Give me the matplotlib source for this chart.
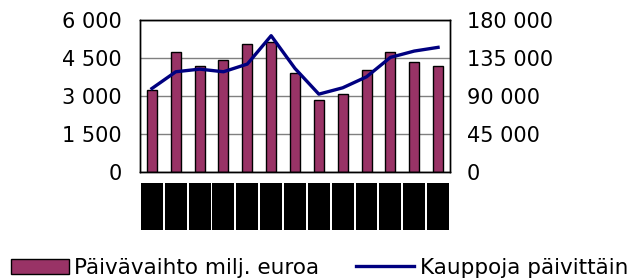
import numpy as np
import matplotlib
matplotlib.use("Agg")
from matplotlib import pyplot as plt
from matplotlib.patches import Rectangle

# monthly values
turnover = [3250, 4750, 4200, 4430, 5060, 5140, 3890, 2860, 3090, 4040, 4750, 4350, 4200]
trades = [98900, 118700, 121800, 118700, 127800, 161400, 122600, 92200, 99700, 112700, 135700, 143200, 147600]

bar_label = 'Päivävaihto milj. euroa'
line_label = 'Kauppoja päivittäin'

left_ticks = [0, 1500, 3000, 4500, 6000]
right_ticks = [0, 45000, 90000, 135000, 180000]


def fmt(v):
	return '{:,}'.format(v).replace(',', ' ')


fig = plt.figure(figsize=(6.39, 2.80), dpi=100)
ax = fig.add_axes([0.2191, 0.3857, 0.4851, 0.5429])
ax2 = ax.twinx()

idx = np.arange(len(turnover))

ax.set_axisbelow(True)
ax.grid(axis='y', color='#808080', linewidth=1.0)
bars = ax.bar(idx, turnover, 0.42, color='#993366', edgecolor='black', linewidth=1.0, label=bar_label)
ax.set_ylim(0, 6000)
ax.set_xlim(-0.5, len(turnover) - 0.5)
ax.set_yticks(left_ticks)
ax.set_yticklabels([fmt(v) for v in left_ticks], fontsize=15)
ax.set_xticks([])

line, = ax2.plot(idx, trades, color='#000080', linewidth=2.4, label=line_label)
ax2.set_ylim(0, 180000)
ax2.set_yticks(right_ticks)
ax2.set_yticklabels([fmt(v) for v in right_ticks], fontsize=15)

ax.tick_params(axis='y', length=0, pad=13)
ax2.tick_params(axis='y', length=0, pad=12)
for a in (ax, ax2):
	for s in a.spines.values():
		s.set_color('black')
		s.set_linewidth(1.0)

# category labels come out as solid black blocks in the reference
for i in idx:
	ax.add_patch(Rectangle((i - 0.46, -0.382), 0.92, 0.31, transform=ax.get_xaxis_transform(),
		facecolor='black', edgecolor='none', clip_on=False))

fig.legend([bars, line], [bar_label, line_label], loc='lower center', bbox_to_anchor=(0.5, 0.0),
	ncol=2, frameon=False, fontsize=15.5, handlelength=2.7, handleheight=0.7,
	handletextpad=0.25, columnspacing=1.7, borderpad=0.1, borderaxespad=0)

plt.savefig('out.png', dpi=100)
